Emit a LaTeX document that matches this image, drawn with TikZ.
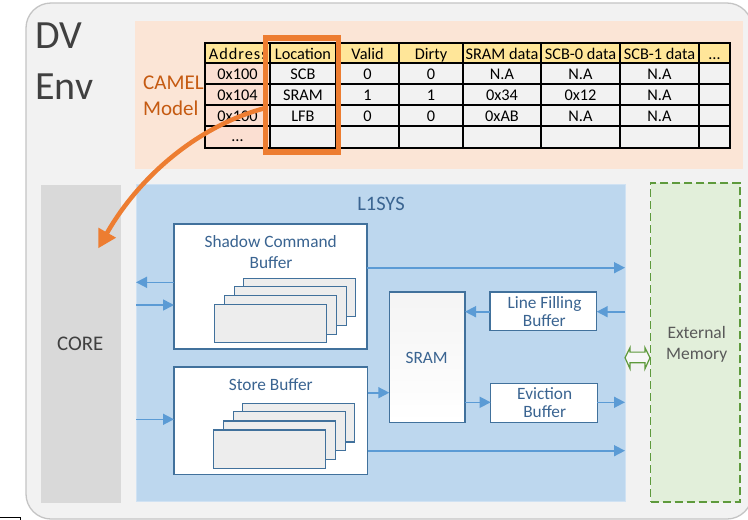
\documentclass[tikz,border=0pt]{standalone}
\usepackage{fontspec}
\setmainfont{Carlito}
\usetikzlibrary{arrows.meta,fit}

\definecolor{envbg}{HTML}{F2F2F2}
\definecolor{envedge}{HTML}{C4C4C4}
\definecolor{darktext}{HTML}{404040}
\definecolor{peach}{HTML}{FBE5D6}
\definecolor{camel}{HTML}{C55A11}
\definecolor{hdrfill}{HTML}{FFE699}
\definecolor{addrfill}{HTML}{FBDFD2}
\definecolor{cellfill}{HTML}{F2F2F2}
\definecolor{hilite}{HTML}{ED7D31}
\definecolor{corefill}{HTML}{D9D9D9}
\definecolor{l1fill}{HTML}{BDD7EE}
\definecolor{l1edge}{HTML}{D0E2F3}
\definecolor{boxedge}{HTML}{41719C}
\definecolor{boxtext}{HTML}{3A6491}
\definecolor{flowblue}{HTML}{5B9BD5}
\definecolor{stackfill}{HTML}{EDEDED}
\definecolor{extfill}{HTML}{E2EFDA}
\definecolor{extedge}{HTML}{5E9A3C}
\definecolor{exttext}{HTML}{595959}

\begin{document}
\begin{tikzpicture}[x=1pt,y=-1pt,
  region/.style={inner sep=0pt, outer sep=0pt},
  unit/.style={region, draw=boxedge, fill=white, line width=1.5pt},
  stackbox/.style={draw=boxedge, fill=stackfill, line width=1.2pt},
  label/.style={inner sep=0pt, anchor=base, text=boxtext, font=\fontsize{17.3}{20}\selectfont},
  celltext/.style={inner sep=0pt, anchor=base, text=black, font=\fontsize{16.3}{19}\selectfont},
  grid/.style={draw=black, line width=1.4pt},
  flow/.style={draw=flowblue, line width=1.6pt, -{Triangle[length=11pt,width=11pt]}},
  bigarrow/.style={draw=hilite, line width=4.5pt, -{Triangle[length=18pt,width=19pt]}}
]
\useasboundingbox (0,0) rectangle (748,520);
\clip (0,0) rectangle (748,520);
\fill[white] (0,0) rectangle (748,520);

% small framed strip in the lower left corner
\draw[black, line width=1.3pt] (-5,517.3) rectangle (20.3,530);

% verification environment frame
\node[region, draw=envedge, fill=envbg, line width=1.3pt, rounded corners=25pt,
      fit={(26,3) (752,519)}] (env) {};
\node[inner sep=0pt, anchor=base west, text=darktext, font=\fontsize{40}{46}\selectfont] (dv) at (35,48.3) {DV};
\node[inner sep=0pt, anchor=base west, text=darktext, font=\fontsize{40}{46}\selectfont] (envlbl) at (35,99) {Env};

% model area
\node[region, fill=peach, fit={(135,21) (743,169)}] (model) {};
\node[inner sep=0pt, anchor=base west, text=camel, font=\fontsize{21}{24}\selectfont] (camel) at (143,89.3) {CAMEL};
\node[inner sep=0pt, anchor=base west, text=camel, font=\fontsize{21}{24}\selectfont] (camel2) at (143,115) {Model};

% model table: fills
\fill[hdrfill] (205,43) rectangle (730,63);
\fill[addrfill] (205,63) rectangle (270,148);
\fill[cellfill] (270,63) rectangle (730,148);

% model table: header
\begin{scope}
  \clip (205,43) rectangle (270,63);
  \node[celltext, anchor=base west] (hd0) at (208.7,59.5) {\addfontfeature{LetterSpace=6}Address};
\end{scope}
\foreach \x/\t [count=\k] in {303/Location, 367.5/Valid, 431/Dirty, 502/SRAM data,
    580.5/SCB-0 data, 659.5/SCB-1 data, 714.5/…}
  \node[celltext] (hd\k) at (\x,59.5) {\t};

% model table: rows
\foreach \x/\t [count=\k] in {237.5/0x100, 303/SCB, 367.5/0, 431/0, 502/N.A, 580.5/N.A, 659.5/N.A}
  \node[celltext] (ra\k) at (\x,79.7) {\t};
\foreach \x/\t [count=\k] in {237.5/0x104, 303/SRAM, 367.5/1, 431/1, 502/0x34, 580.5/0x12, 659.5/N.A}
  \node[celltext] (rb\k) at (\x,100.5) {\t};
\foreach \x/\t [count=\k] in {237.5/0x100, 303/LFB, 367.5/0, 431/0, 502/0xAB, 580.5/N.A, 659.5/N.A}
  \node[celltext] (rc\k) at (\x,121.3) {\t};
\node[celltext] (rd1) at (237.5,141) {…};

% model table: grid
\foreach \x in {270,336,399,463,541,620,699}
  \draw[grid] (\x,43) -- (\x,148);
\foreach \y in {63,84,105,126}
  \draw[grid] (205,\y) -- (730,\y);
\draw[grid] (205,43) rectangle (730,148);

% highlighted location column
\node[region, draw=hilite, line width=5.5pt, fit={(265.5,38) (338.5,152)}] (loc) {};

% core
\node[region, fill=corefill, fit={(41,185) (120.7,503)}] (core) {};
\node[inner sep=0pt, anchor=base, text=darktext, font=\fontsize{20.8}{24}\selectfont] (corelbl) at (80.3,350.7) {CORE};

% L1 subsystem
\node[region, fill=l1fill, draw=l1edge, line width=1pt, fit={(136,184) (625,501)}] (l1) {};
\node[label, font=\fontsize{20.5}{24}\selectfont] (l1lbl) at (381,210) {L1SYS};

% external memory
\node[region, fill=extfill, draw=extedge, line width=1.5pt, dash pattern=on 8pt off 4pt,
      fit={(650.7,183) (740,502)}] (ext) {};
\node[label, text=exttext, font=\fontsize{17.5}{20}\selectfont] (extlbl1) at (696.7,338.3) {External};
\node[label, text=exttext, font=\fontsize{17.5}{20}\selectfont] (extlbl2) at (696.7,359.5) {Memory};

% shadow command buffer
\node[unit, fit={(174,224) (367,349)}] (scb) {};
\node[label] (scblbl1) at (270.7,247.7) {Shadow Command};
\node[label] (scblbl2) at (271,268.3) {Buffer};
\draw[stackbox] (243.3,278.3) rectangle ++(112.4,38.4);
\draw[stackbox] (234.3,286.7) rectangle ++(112.4,38.4);
\draw[stackbox] (224.3,295.7) rectangle ++(112.4,38.4);
\draw[stackbox] (214.3,304.3) rectangle ++(112.4,38.4);

% store buffer
\node[unit, fit={(174,367) (367.5,474.3)}] (sb) {};
\node[label] (sblbl) at (270.8,390.7) {Store Buffer};
\draw[stackbox] (242.3,403.3) rectangle ++(112.4,38.6);
\draw[stackbox] (233.3,411.7) rectangle ++(112.4,38.6);
\draw[stackbox] (223.3,421)   rectangle ++(112.4,38.6);
\draw[stackbox] (213.3,430)   rectangle ++(112.4,38.6);

% SRAM
\node[unit, top color=stackfill!60, bottom color=white, fit={(389.3,292) (465,422.3)}] (sram) {};
\node[label] (sramlbl) at (426.7,363.3) {SRAM};

% line filling buffer
\node[unit, fit={(490,292) (596.7,330.7)}] (lfb) {};
\node[label] (lfblbl1) at (544.5,308.3) {Line Filling};
\node[label] (lfblbl2) at (544.3,326.3) {Buffer};

% eviction buffer
\node[unit, fit={(490.7,383.3) (597.3,422.3)}] (eb) {};
\node[label] (eblbl1) at (544.7,399) {Eviction};
\node[label] (eblbl2) at (544.7,417.3) {Buffer};

% data paths
\draw[flow] (scb.west |- 0,282.3) -- (l1.west |- 0,282.3);
\draw[flow] (l1.west |- 0,305) -- (scb.west |- 0,305);
\draw[flow] (l1.west |- 0,419.3) -- (sb.west |- 0,419.3);
\draw[flow] (scb.east |- 0,267.7) -- (l1.east |- 0,267.7);
\draw[flow] (sb.east |- 0,392.7) -- (sram.west |- 0,392.7);
\draw[flow] (sb.east |- 0,450.7) -- (l1.east |- 0,450.7);
\draw[flow] (lfb.west |- 0,311.7) -- (sram.east |- 0,311.7);
\draw[flow] (l1.east |- 0,311.7) -- (lfb.east |- 0,311.7);
\draw[flow] (sram.east |- 0,402.3) -- (eb.west |- 0,402.3);
\draw[flow] (eb.east |- 0,402.3) -- (l1.east |- 0,402.3);

% bidirectional link to external memory
\coordinate (link) at (l1.east |- 0,357.7);
\draw[draw=extedge, fill=envbg!60!white, line width=1.2pt, line join=miter]
  (link) -- ++(5,-10) -- ++(0,4.4) -- ++(15,0) -- ++(0,-4.4) -- ++(5,10)
  -- ++(-5,11) -- ++(0,-6) -- ++(-15,0) -- ++(0,6) -- cycle;

% location lookup drives the core
\coordinate (coretip) at (98.3,248.3);
\draw[bigarrow] ([yshift=-13pt]loc.west) .. controls (200,125) and (140,175) .. (coretip);
\end{tikzpicture}
\end{document}
